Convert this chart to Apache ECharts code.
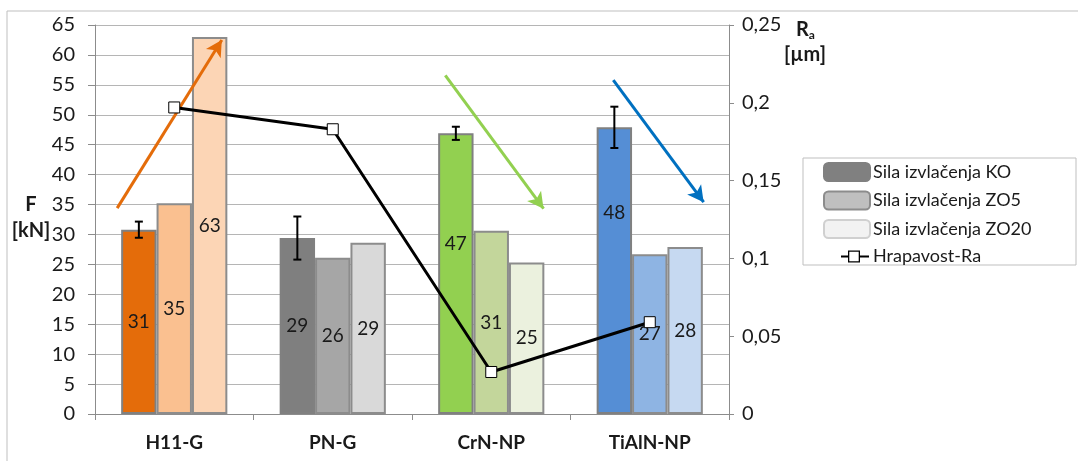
<!DOCTYPE html>
<html>
<head>
<meta charset="utf-8">
<script src="https://cdn.jsdelivr.net/npm/echarts@6/dist/echarts.min.js"></script>
<style>
html,body{margin:0;padding:0;background:#fff;}
#chart{width:1078px;height:461px;}
</style>
</head>
<body>
<div id="chart"></div>
<script>
// ---- data ----
const categories = ['H11-G', 'PN-G', 'CrN-NP', 'TiAlN-NP'];
const silaKO   = [30.8, 29.4, 46.9, 47.9];
const silaZO5  = [35.2, 26.1, 30.6, 26.7];
const silaZO20 = [63.0, 28.6, 25.3, 27.9];
const errKO    = [1.35, 3.6, 1.1, 3.45];
const hrapavostRa = [0.197, 0.183, 0.027, 0.059];
const leftTicks = { min: 0, max: 65, interval: 5 };
const rightTicks = { min: 0, max: 0.25, interval: 0.05 };
// per-category colour families [KO, ZO5, ZO20]
const catColors = [
  ['#E46C0A', '#FAC090', '#FCD5B5'],
  ['#7F7F7F', '#A6A6A6', '#D9D9D9'],
  ['#92D050', '#C3D69B', '#EBF1DE'],
  ['#558ED5', '#8EB4E3', '#C6D9F1']
];
// trend arrows (category units, kN)
const arrows = [
  { color: '#E46C0A', from: [-0.36, 34.4], to: [0.30, 62.5] },
  { color: '#92D050', from: [1.71, 56.6], to: [2.33, 34.3] },
  { color: '#0070C0', from: [2.77, 55.8], to: [3.34, 35.4] }
];
// manual label offsets (px) for moved labels
const labelShiftKO = [0, 0, -30, -58];

const FONT = 'Lato';
const gap = 0.33;

function barData(vals, k) {
  return vals.map((v, i) => {
    const item = { value: v, itemStyle: { color: catColors[i][k] } };
    if (k === 0 && labelShiftKO[i]) item.label = { offset: [0, labelShiftKO[i]] };
    return item;
  });
}

const barCommon = {
  type: 'bar',
  barGap: '0%',
  barCategoryGap: (gap * 100) + '%',
  label: {
    show: true, position: 'inside', fontFamily: FONT, fontSize: 19, color: '#1a1a1a',
    formatter: p => Math.round(p.value)
  }
};

// legend icon for the line series: short line with hollow square
const lineIcon = 'path://M0 0L0.01 0L0 0.01Z M46 18L45.99 18L46 17.99Z ' +
  'M17 8L24 8L24 10L17 10Z M36 8L45 8L45 10L36 10Z ' +
  'M24 3L36 3L36 15L24 15Z M25.3 4.3L25.3 13.7L34.7 13.7L34.7 4.3Z';

const chart = echarts.init(document.getElementById('chart'));
const option = {
  animation: false,
  backgroundColor: '#fff',
  tooltip: { show: false },
  axisPointer: { show: false },
  textStyle: { fontFamily: FONT },
  grid: { left: 95, right: 349, top: 25, bottom: 47 },
  legend: {
    orient: 'vertical',
    left: 823, top: 162, padding: 0,
    itemWidth: 46, itemHeight: 18, itemGap: 8.5,
    textStyle: { fontFamily: FONT, fontSize: 18, color: '#1a1a1a', padding: [0, 0, 0, -2] },
    data: [
      'Sila izvlačenja KO',
      'Sila izvlačenja ZO5',
      'Sila izvlačenja ZO20',
      { name: 'Hrapavost-Ra', icon: lineIcon, itemStyle: { color: '#000', borderWidth: 0 } }
    ]
  },
  xAxis: [
    {
      type: 'category', data: categories,
      axisLine: { onZero: false, lineStyle: { color: '#8c8c8c', width: 1 } },
      axisTick: { show: true, length: 6, lineStyle: { color: '#8c8c8c' } },
      axisLabel: { fontFamily: FONT, fontSize: 19, fontWeight: 'bold', color: '#1a1a1a', margin: 19 }
    },
    { type: 'value', min: -0.5, max: 3.5, show: false,
      axisLine: { show: false, onZero: false }, splitLine: { show: false }, axisTick: { show: false }, axisLabel: { show: false } }
  ],
  yAxis: [
    {
      type: 'value', min: leftTicks.min, max: leftTicks.max, interval: leftTicks.interval,
      position: 'left',
      axisLine: { show: true, onZero: false, lineStyle: { color: '#8c8c8c' } },
      axisTick: { show: true, length: 7, lineStyle: { color: '#8c8c8c' } },
      splitLine: { show: true, lineStyle: { color: '#b5b5b5', width: 1 } },
      axisLabel: { fontFamily: FONT, fontSize: 20, color: '#1a1a1a', margin: 20 }
    },
    {
      type: 'value', min: rightTicks.min, max: rightTicks.max, interval: rightTicks.interval,
      position: 'right',
      axisLine: { show: true, onZero: false, lineStyle: { color: '#8c8c8c' } },
      axisTick: { show: true, length: 5, lineStyle: { color: '#8c8c8c' } },
      splitLine: { show: false },
      axisLabel: {
        fontFamily: FONT, fontSize: 20, color: '#1a1a1a', margin: 13,
        formatter: v => String(+v.toFixed(2)).replace('.', ',')
      }
    }
  ],
  series: [
    Object.assign({}, barCommon, {
      name: 'Sila izvlačenja KO',
      itemStyle: { color: '#808080', borderColor: '#808080', borderWidth: 2 },
      data: barData(silaKO, 0)
    }),
    Object.assign({}, barCommon, {
      name: 'Sila izvlačenja ZO5',
      itemStyle: { color: '#BFBFBF', borderColor: '#8c8c8c', borderWidth: 2 },
      data: barData(silaZO5, 1)
    }),
    Object.assign({}, barCommon, {
      name: 'Sila izvlačenja ZO20',
      itemStyle: { color: '#F2F2F2', borderColor: '#d0d0d0', borderWidth: 2 },
      data: barData(silaZO20, 2).map(d => Object.assign(d, { itemStyle: Object.assign({ borderColor: '#8c8c8c' }, d.itemStyle) }))
    }),
    {
      type: 'custom',
      name: 'err',
      z: 5,
      silent: true,
      data: silaKO.map((v, i) => [i, v - errKO[i], v + errKO[i]]),
      renderItem: function (params, api) {
        const i = api.value(0);
        const lo = api.coord([i, api.value(1)]);
        const hi = api.coord([i, api.value(2)]);
        const band = api.size([1, 0])[0];
        const barW = band * (1 - gap) / 3;
        const x = lo[0] - barW;
        const cap = 4;
        const st = { stroke: '#000', lineWidth: 2 };
        return {
          type: 'group',
          children: [
            { type: 'line', shape: { x1: x, y1: lo[1], x2: x, y2: hi[1] }, style: st },
            { type: 'line', shape: { x1: x - cap, y1: lo[1], x2: x + cap, y2: lo[1] }, style: st },
            { type: 'line', shape: { x1: x - cap, y1: hi[1], x2: x + cap, y2: hi[1] }, style: st }
          ]
        };
      }
    },
    {
      type: 'line',
      name: 'Hrapavost-Ra',
      yAxisIndex: 1,
      z: 10,
      data: hrapavostRa,
      symbol: 'rect', symbolSize: 11,
      lineStyle: { color: '#000', width: 3 },
      itemStyle: { color: '#fff', borderColor: '#000', borderWidth: 1 }
    }
  ].concat(arrows.map((a, k) => ({
    type: 'line',
    name: 'arrow' + k,
    xAxisIndex: 1,
    yAxisIndex: 0,
    z: 8,
    data: [],
    silent: true,
    markLine: {
      silent: true,
      symbol: ['none', 'arrow'],
      symbolSize: [13, 16],
      label: { show: false },
      lineStyle: { color: a.color, width: 3, type: 'solid' },
      data: [[{ coord: a.from }, { coord: a.to }]]
    }
  }))),
  graphic: [
    { type: 'rect', shape: { x: 7, y: 11, width: 1100, height: 480 }, style: { fill: null, stroke: '#bfbfbf', lineWidth: 1 }, silent: true, z: -10 },
    { type: 'rect', shape: { x: 803, y: 158, width: 273, height: 107 }, style: { fill: null, stroke: '#bfbfbf', lineWidth: 1 }, silent: true },
    { type: 'text', x: 31, y: 205, style: { text: 'F', font: 'bold 20px Lato', fill: '#1a1a1a', align: 'center', verticalAlign: 'middle' } },
    { type: 'text', x: 31, y: 231, style: { text: '[kN]', font: 'bold 20px Lato', fill: '#1a1a1a', align: 'center', verticalAlign: 'middle' } },
    { type: 'text', x: 796, y: 19, style: {
      text: '{r|R}{s|a}', rich: {
        r: { font: 'bold 20px Lato', fill: '#1a1a1a' },
        s: { font: 'bold 12px Lato', fill: '#1a1a1a', padding: [10, 0, 0, 0] }
      } } },
    { type: 'text', x: 805, y: 55, style: { text: '[µm]', font: 'bold 20px Lato', fill: '#1a1a1a', align: 'center', verticalAlign: 'middle' } }
  ]
};
chart.setOption(option);
</script>
</body>
</html>
